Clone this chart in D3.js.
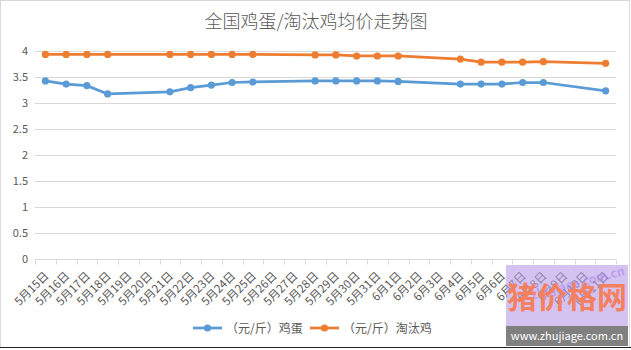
<!DOCTYPE html>
<html><head><meta charset="utf-8">
<script src="https://cdn.jsdelivr.net/npm/d3@7/dist/d3.min.js"></script>
<style>body{margin:0;background:#fff}svg{display:block}text{font-family:"Noto Sans CJK SC","Noto Sans",sans-serif}</style>
</head><body><svg id="c" width="631" height="350"></svg>
<script>
const title = "全国鸡蛋/淘汰鸡均价走势图";
const categories = ["5月15日","5月16日","5月17日","5月18日","5月19日","5月20日","5月21日","5月22日","5月23日","5月24日","5月25日","5月26日","5月27日","5月28日","5月29日","5月30日","5月31日","6月1日","6月2日","6月3日","6月4日","6月5日","6月6日","6月7日","6月8日","6月9日","6月10日","6月11日"];
const eggValues = [3.43,3.37,3.34,3.18,null,null,3.22,3.30,3.35,3.40,3.41,null,null,3.43,3.43,3.43,3.43,3.42,null,null,3.37,3.37,3.37,3.40,3.40,null,null,3.24];
const henValues = [3.94,3.94,3.94,3.94,null,null,3.94,3.94,3.94,3.94,3.94,null,null,3.93,3.93,3.91,3.91,3.91,null,null,3.85,3.79,3.79,3.79,3.80,null,null,3.77];
const yTicks = [0,0.5,1,1.5,2,2.5,3,3.5,4];
const seriesNames = ["（元/斤）鸡蛋","（元/斤）淘汰鸡"];
const colors = ["#5b9bd5","#ed7d31"];

const svg = d3.select("#c");
svg.append("rect").attr("x",0.5).attr("y",0.5).attr("width",629).attr("height",347).attr("fill","#fff").attr("stroke","#d9d9d9");
svg.append("line").attr("x1",0).attr("x2",631).attr("y1",347.5).attr("y2",347.5).attr("stroke","#222");

svg.append("text").attr("x",316).attr("y",28).attr("text-anchor","middle").attr("font-size",18).attr("font-weight",300).attr("fill","#595959").text(title);

const x = d3.scaleBand().domain(categories).range([35,616]);
const y = d3.scaleLinear().domain([0,4]).range([259.3,51.3]);

svg.append("g").selectAll("line").data(yTicks.filter(d=>d>0)).join("line")
  .attr("x1",35).attr("x2",616).attr("y1",d=>Math.round(y(d))+0.5).attr("y2",d=>Math.round(y(d))+0.5)
  .attr("stroke","#d9d9d9").attr("stroke-width",1);

const ya = svg.append("g");
ya.selectAll("text").data(yTicks).join("text")
  .attr("x",28).attr("y",d=>y(d)+4).attr("text-anchor","end").attr("font-size",11).attr("fill","#595959")
  .text(d=>d);

const xa = svg.append("g").attr("transform","translate(0,"+(Math.round(y(0))+0.5)+")");
xa.append("line").attr("x1",35).attr("x2",616).attr("stroke","#d9d9d9");
const edges = categories.map(c=>x(c)).concat([x.range()[1]]);
xa.selectAll("line.t").data(edges).join("line").attr("class","t")
  .attr("x1",d=>Math.round(d)+0.5).attr("x2",d=>Math.round(d)+0.5).attr("y1",0).attr("y2",5).attr("stroke","#d9d9d9");
xa.selectAll("text").data(categories).join("text")
  .attr("transform",d=>"translate("+(x(d)+x.bandwidth()/2+4)+",17) rotate(-45)")
  .attr("text-anchor","end").attr("font-size",11.5).attr("fill","#595959").text(d=>d);

const allSeries = [eggValues, henValues];
allSeries.forEach((vals,i)=>{
  const pts = categories.map((c,j)=>({c,v:vals[j]})).filter(d=>d.v!=null);
  const line = d3.line().x(d=>x(d.c)+x.bandwidth()/2).y(d=>y(d.v));
  svg.append("path").datum(pts).attr("d",line).attr("fill","none").attr("stroke",colors[i]).attr("stroke-width",2.75).attr("stroke-linejoin","round");
  svg.append("g").selectAll("circle").data(pts).join("circle")
    .attr("cx",d=>x(d.c)+x.bandwidth()/2).attr("cy",d=>y(d.v)).attr("r",3.6).attr("fill",colors[i]);
});

const legX = [193, 310];
seriesNames.forEach((n,i)=>{
  const g = svg.append("g").attr("transform","translate("+legX[i]+",328)");
  g.append("line").attr("x1",0).attr("x2",29).attr("stroke",colors[i]).attr("stroke-width",2.75);
  g.append("circle").attr("cx",14.5).attr("r",3.6).attr("fill",colors[i]);
  g.append("text").attr("x",33).attr("y",4.5).attr("font-size",12).attr("fill","#595959").text(n);
});

const wm = svg.append("g");
wm.append("rect").attr("x",506).attr("y",265).attr("width",122).attr("height",81).attr("fill","#b89be8").attr("opacity",0.6);
wm.append("text").attr("x",530).attr("y",292).attr("font-size",12).attr("font-weight",700).attr("fill","#a987e8").attr("opacity",0.6).attr("transform","rotate(-15,560,287)").text("zhujiage.com.cn");
wm.append("text").attr("x",567).attr("y",308).attr("text-anchor","middle").attr("font-size",30).attr("font-weight",700).attr("fill","#f5805f").text("猪价格网");
wm.append("rect").attr("x",506).attr("y",326).attr("width",122).attr("height",20).attr("fill","#808080");
wm.append("text").attr("x",567).attr("y",340).attr("text-anchor","middle").attr("font-size",11).attr("font-family","Liberation Mono, monospace").attr("fill","#fff").text("www.zhujiage.com.cn");
</script></body></html>
